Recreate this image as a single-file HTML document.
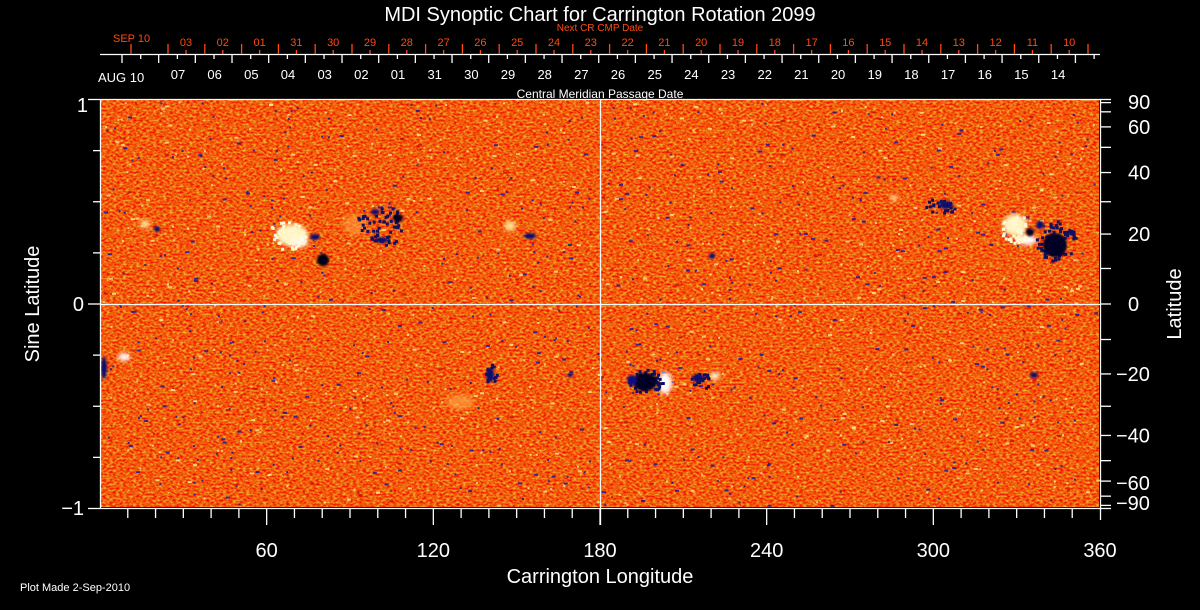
<!DOCTYPE html>
<html><head><meta charset="utf-8"><style>
html,body{margin:0;padding:0;background:#000;}
svg{display:block;font-family:"Liberation Sans",sans-serif;}
</style></head><body>
<svg id="s" width="1200" height="610" viewBox="0 0 1200 610" xmlns="http://www.w3.org/2000/svg">
<defs>
<filter id="grain" x="0" y="0" width="100%" height="100%" color-interpolation-filters="sRGB">
<feTurbulence type="fractalNoise" baseFrequency="0.3 0.5" numOctaves="2" seed="7" result="n"/>
<feColorMatrix in="n" type="matrix" values="0 0 0 0 0.95  1.2 0 0 0 -0.24  0.5 0 0 0 -0.2  0 0 0 0 1"/>
</filter>
<filter id="bl"><feGaussianBlur stdDeviation="2"/></filter>
<filter id="bl1"><feGaussianBlur stdDeviation="1"/></filter>
</defs>
<rect x="0" y="0" width="1200" height="610" fill="#000"/>
<rect x="101" y="100" width="998" height="407" fill="#f05010"/>
<rect x="101" y="100" width="998" height="407" filter="url(#grain)"/>
<g id="dots"></g>
<g filter="url(#bl)">
 <ellipse cx="292" cy="235" rx="16" ry="11" fill="#fff4c0"/>
 <ellipse cx="300" cy="242" rx="8" ry="5" fill="#fff"/>
 <ellipse cx="145" cy="224" rx="5" ry="4" fill="#ffe090"/>
 <ellipse cx="510" cy="226" rx="6" ry="5" fill="#ffe090"/>
 <ellipse cx="1015" cy="225" rx="12" ry="11" fill="#fff4c0"/>
 <ellipse cx="1027" cy="240" rx="10" ry="5" fill="#fff"/>
 <ellipse cx="894" cy="198" rx="4" ry="3" fill="#ffe090"/>
 <ellipse cx="124" cy="357" rx="6" ry="4" fill="#fff"/>
 <ellipse cx="460" cy="402" rx="14" ry="8" fill="#ffa040" opacity="0.7"/>
 <ellipse cx="665" cy="383" rx="7" ry="11" fill="#fff"/>
 <ellipse cx="715" cy="376" rx="5" ry="4" fill="#fff4c0"/>
 <ellipse cx="355" cy="225" rx="12" ry="10" fill="#ffa040" opacity="0.6"/>
</g>
<g id="clus"></g>
<g filter="url(#bl1)">
 <circle cx="323" cy="260" r="6" fill="#000018"/>
 <ellipse cx="315" cy="237" rx="5" ry="3" fill="#101070"/>
 <ellipse cx="398" cy="218" rx="5" ry="4" fill="#000020"/>
 <ellipse cx="382" cy="240" rx="6" ry="3" fill="#101070"/>
 <ellipse cx="375" cy="212" rx="4" ry="3" fill="#101070"/>
 <ellipse cx="157" cy="229" rx="3" ry="3" fill="#101070"/>
 <ellipse cx="530" cy="236" rx="6" ry="3" fill="#101070"/>
 <ellipse cx="1055" cy="245" rx="12" ry="12" fill="#000028"/>
 <ellipse cx="1040" cy="225" rx="4" ry="4" fill="#101070"/>
 <ellipse cx="1030" cy="232" rx="4" ry="4" fill="#000020"/>
 <ellipse cx="946" cy="205" rx="7" ry="4" fill="#101070"/>
 <ellipse cx="712" cy="256" rx="3" ry="3" fill="#101070"/>
 <ellipse cx="104" cy="368" rx="3" ry="11" fill="#101070"/>
 <ellipse cx="490" cy="375" rx="4" ry="7" fill="#101070"/>
 <ellipse cx="645" cy="382" rx="12" ry="9" fill="#000028"/>
 <ellipse cx="632" cy="380" rx="5" ry="5" fill="#101080"/>
 <ellipse cx="698" cy="378" rx="6" ry="4" fill="#101070"/>
 <ellipse cx="1034" cy="375" rx="4" ry="3" fill="#101070"/>
 <ellipse cx="570" cy="375" rx="3" ry="2" fill="#101070"/>
</g>
<g stroke="#fff" stroke-width="1.3" fill="none" id="ax">
 <line x1="100" y1="99.5" x2="1100" y2="99.5"/>
 <line x1="100" y1="508.5" x2="1100" y2="508.5"/>
 <line x1="100.5" y1="99" x2="100.5" y2="509"/>
 <line x1="1100.5" y1="99" x2="1100.5" y2="520"/>
 <line x1="100" y1="304.5" x2="1100" y2="304.5"/>
 <line x1="600.5" y1="99" x2="600.5" y2="525"/>
 <line x1="100" y1="54.5" x2="1100" y2="54.5"/>
</g>
<g fill="#fff" font-size="20">
 <text x="600" y="21" text-anchor="middle" font-size="20">MDI Synoptic Chart for Carrington Rotation 2099</text>
 <text x="600" y="98" text-anchor="middle" font-size="12">Central Meridian Passage Date</text>
 <text x="600" y="583" text-anchor="middle">Carrington Longitude</text>
 <text x="20" y="591" font-size="11">Plot Made  2-Sep-2010</text>
 <text transform="translate(39,304) rotate(-90)" text-anchor="middle">Sine Latitude</text>
 <text transform="translate(1181,304) rotate(-90)" text-anchor="middle">Latitude</text>
 <text x="88" y="112" text-anchor="end">1</text>
 <text x="84" y="311" text-anchor="end">0</text>
 <text x="84" y="515" text-anchor="end">−1</text>
 <text x="98" y="82" font-size="13">AUG 10</text>
</g>
<text x="600" y="31" text-anchor="middle" font-size="10" fill="#ff4a10" font-family="Liberation Sans,sans-serif">Next CR CMP Date</text>
<text x="113" y="42" font-size="11" fill="#ff4a10" font-family="Liberation Sans,sans-serif">SEP 10</text>
<g id="extra"></g>
</svg>
<script>
(function(){
var ns="http://www.w3.org/2000/svg",ex=document.getElementById("extra"),dots=document.getElementById("dots"),cl=document.getElementById("clus");
function el(t,a,p){var e=document.createElementNS(ns,t);for(var k in a)e.setAttribute(k,a[k]);(p||ex).appendChild(e);return e;}
function ln(x1,y1,x2,y2,c){el("line",{x1:x1,y1:y1,x2:x2,y2:y2,stroke:c||"#fff","stroke-width":1.3});}
function tx(x,y,s,o){var a={x:x,y:y,fill:"#fff","font-size":20,"font-family":"Liberation Sans,sans-serif"};for(var k in o)a[k]=o[k];var e=el("text",a);e.textContent=s;}
var seed=12345;function r(){seed=(seed*1103515245+12345)%2147483648;return seed/2147483648;}
for(var i=0;i<1400;i++){var x=102+r()*995,y=101+r()*404;var c=r();
 el("rect",{x:x.toFixed(1),y:y.toFixed(1),width:2+ (r()<0.3?2:0),height:2,fill:c<0.45?"#1818a0":(c<0.6?"#c01008":"#fff0a0"),opacity:c<0.6?0.85:0.75},dots);}
// clusters near active regions
[[380,225,25,20,"#101060",60],[1055,240,20,20,"#101060",70],[645,380,18,12,"#101060",50],[285,235,20,14,"#fff8d0",50],[1015,228,15,14,"#fff8d0",40],[700,380,10,8,"#101060",20],[490,372,6,10,"#101060",15],[940,205,15,8,"#101060",20]].forEach(function(c){
 for(var i=0;i<c[5];i++){var a=r()*6.283,d=Math.sqrt(r());el("rect",{x:(c[0]+Math.cos(a)*d*c[2]).toFixed(1),y:(c[1]+Math.sin(a)*d*c[3]).toFixed(1),width:3,height:3,fill:c[4]},cl);}});
for(var d=10;d<360;d+=10){var x=100+d*1000/360;ln(x,509,x,(d%60==0)?525:518);}
[60,120,180,240,300,360].forEach(function(d){tx(100+d*1000/360,557,String(d),{"text-anchor":"middle"});});
[-1,-0.75,-0.5,-0.25,0,0.25,0.5,0.75,1].forEach(function(v){var y=304-204.5*v;ln(100,y,(Math.abs(v)==1||v==0)?88:93,y);});
for(var L=-90;L<=90;L+=10){var y=304-204.5*Math.sin(L*Math.PI/180);ln(1100,y,1111,y);}
[[90,"90"],[60,"60"],[40,"40"],[20,"20"],[0,"0"],[-20,"−20"],[-40,"−40"],[-60,"−60"],[-90,"−90"]].forEach(function(p){
 var y=304-204.5*Math.sin(p[0]*Math.PI/180);if(p[0]==90)y=102;if(p[0]==-90)y=503;if(p[0]==60)y=127;if(p[0]==-60)y=483;
 tx(p[0]<0?1116:1128,y+7,p[1],{});});
for(var i=0;i<27;i++){var x=122+i*36.67;if(x>1100)break;ln(x,54,x,63);}
for(var i=0;i<27;i++){var x=159+i*36.67-18.3;if(x>1100||x<100)continue;ln(x,54,x,59);}
var w=["07","06","05","04","03","02","01","31","30","29","28","27","26","25","24","23","22","21","20","19","18","17","16","15","14"];
w.forEach(function(s,i){tx(178+i*36.67,79,s,{"text-anchor":"middle","font-size":13});});
var rc="#ff4a10";
ln(131,44,131,54,rc);
for(var i=0;i<26;i++){var x=168+i*36.8;if(x>1090)break;ln(x,44,x,54,rc);if(x+18<1100)ln(x+18,50,x+18,54,rc);}
var rd=["03","02","01","31","30","29","28","27","26","25","24","23","22","21","20","19","18","17","16","15","14","13","12","11","10"];
rd.forEach(function(s,i){tx(186+i*36.8,46,s,{"text-anchor":"middle","font-size":11,fill:rc});});
})();
</script>
</body></html>
